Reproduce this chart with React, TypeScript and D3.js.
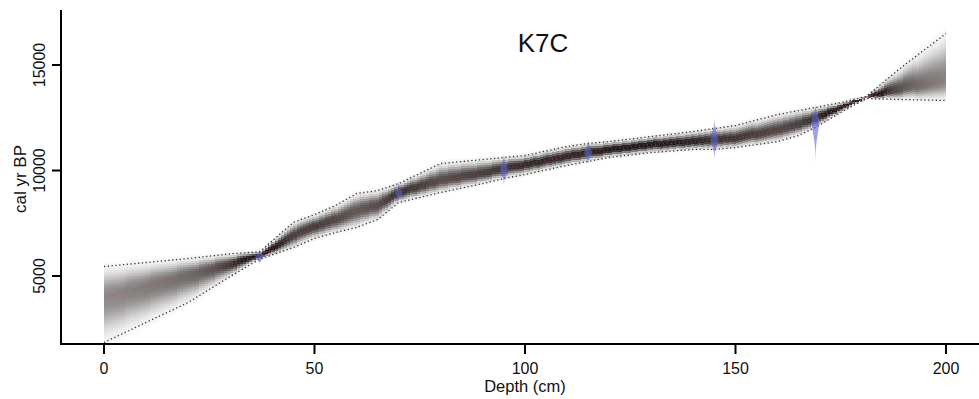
import React from "react";
import * as d3 from "d3";

// Age-depth model for core K7C: 95% envelope and median (cal yr BP) at model depths (cm)
const depths = [0, 10, 20, 30, 37, 45, 50, 55, 60, 65, 70, 75, 80, 90, 95, 100, 110, 115, 120, 130, 140, 145, 150, 160, 165, 169, 175, 181, 190, 200];
const upper95 = [5450, 5640, 5830, 6050, 6150, 7540, 7910, 8340, 8910, 9050, 9380, 9860, 10330, 10520, 10620, 10710, 11140, 11280, 11370, 11610, 11850, 11990, 12130, 12650, 12840, 12990, 13220, 13510, 14980, 16490];
const medianAge = [3980, 4510, 5040, 5570, 5950, 6920, 7350, 7680, 8100, 8340, 8960, 9240, 9530, 9860, 10090, 10280, 10660, 10850, 10990, 11230, 11370, 11450, 11520, 11900, 12180, 12460, 12990, 13460, 13890, 14270];
const lower95 = [1850, 2800, 3745, 4980, 5800, 6350, 6780, 7060, 7300, 7680, 8480, 8720, 8960, 9380, 9620, 9810, 10240, 10430, 10620, 10850, 11000, 11000, 11090, 11370, 11660, 12040, 12750, 13410, 13360, 13320];

// Calibrated radiocarbon dates
const dateDepths = [37, 70, 95, 115, 145, 169];
const dateAges = [5920, 8960, 10050, 10850, 11500, 12400];
const dateSdOlder = [130, 150, 250, 190, 320, 260];
const dateSdYounger = [130, 150, 250, 190, 320, 650];

const xTicks = [0, 50, 100, 150, 200];
const yTicks = [5000, 10000, 15000];

const W = 979;
const H = 399;
const plotLeft = 61;
const plotTop = 10;
const plotBottom = 344;
const font = "'Liberation Sans', Arial, Helvetica, sans-serif";

export default function App() {
  const x = d3.scaleLinear().domain([0, 200]).range([104, 946]);
  const y = d3.scaleLinear().domain([5000, 15000]).range([276, 65]);

  const up = d3.scaleLinear().domain(depths).range(upper95);
  const med = d3.scaleLinear().domain(depths).range(medianAge);
  const lo = d3.scaleLinear().domain(depths).range(lower95);

  // greyscale posterior density, one column of cells per depth step
  const cells: { x: number; y: number; w: number; h: number; o: number }[] = [];
  const step = 0.75;
  const cellH = 2;
  for (let d0 = 0; d0 < 200 - 1e-9; d0 += step) {
    const d1 = Math.min(200, d0 + step);
    const dc = (d0 + d1) / 2;
    const u = up(dc), m = med(dc), l = lo(dc);
    const sUp = Math.max(15, (u - m) / 1.96);
    const sDn = Math.max(15, (m - l) / 1.96);
    const sAvg = (u - l) / 3.92;
    const peak = Math.min(1, 1.2 * Math.pow(130 / Math.max(sAvg, 1), 0.45));
    const pyTop = y(m + 2.6 * sUp);
    const pyBot = y(m - 2.6 * sDn);
    const xa = x(d0), xb = x(d1);
    for (let py = pyTop; py < pyBot; py += cellH) {
      const age = y.invert(py + cellH / 2);
      const z = age >= m ? (age - m) / sUp : (m - age) / sDn;
      const o = peak * Math.exp(-0.5 * Math.pow(Math.abs(z), 2.4));
      if (o < 0.015) continue;
      cells.push({ x: xa, y: py, w: xb - xa, h: cellH, o });
    }
  }

  const lineGen = (vals: number[]) =>
    d3.line<number>().x((_, i) => x(depths[i])).y((v) => y(v))(vals) || "";

  const dateShapes = dateDepths.map((dep, i) => {
    const a = dateAges[i];
    const sO = dateSdOlder[i];
    const sY = dateSdYounger[i];
    const ages = d3.range(0, 81).map((k) => a - 3.2 * sY + (k / 80) * (3.2 * sY + 3.2 * sO));
    const hw = (age: number) => {
      const z = age >= a ? (age - a) / sO : (a - age) / sY;
      return 3.8 * Math.exp(-0.5 * z * z);
    };
    return (
      d3
        .area<number>()
        .y((v) => y(v))
        .x0((v) => x(dep) - hw(v))
        .x1((v) => x(dep) + hw(v))(ages) || ""
    );
  });

  return (
    <svg
      width={W}
      height={H}
      style={{ position: "absolute", left: 0, top: 0, background: "#fff" }}
      fontFamily={font}
    >
      <rect x={0} y={0} width={W} height={H} fill="#fff" />
      <g shapeRendering="crispEdges">
        {cells.map((c, i) => (
          <rect key={i} x={c.x} y={c.y} width={c.w} height={c.h} fill="#1e1616" fillOpacity={c.o} />
        ))}
      </g>
      <path d={lineGen(upper95)} fill="none" stroke="#333" strokeWidth={1.3} strokeDasharray="1.3,2.5" />
      <path d={lineGen(lower95)} fill="none" stroke="#333" strokeWidth={1.3} strokeDasharray="1.3,2.5" />
      <path d={lineGen(medianAge)} fill="none" stroke="#d04040" strokeOpacity={0.7} strokeWidth={1.2} strokeDasharray="1.2,2.8" />
      {dateShapes.map((p, i) => (
        <path key={i} d={p} fill="rgb(90,100,205)" fillOpacity={0.6} />
      ))}

      {/* axes */}
      <line x1={plotLeft} y1={plotTop} x2={plotLeft} y2={plotBottom + 1} stroke="#000" strokeWidth={2} />
      <line x1={plotLeft - 1} y1={plotBottom} x2={W} y2={plotBottom} stroke="#000" strokeWidth={2} />
      {xTicks.map((t) => (
        <g key={t}>
          <line x1={x(t)} x2={x(t)} y1={plotBottom} y2={plotBottom + 10} stroke="#000" strokeWidth={2} />
          <text x={x(t)} y={374} fontSize={16} textAnchor="middle" fill="#111">
            {t}
          </text>
        </g>
      ))}
      {yTicks.map((t) => (
        <g key={t}>
          <line x1={plotLeft - 9} x2={plotLeft} y1={y(t)} y2={y(t)} stroke="#000" strokeWidth={2} />
          <text
            transform={`translate(45,${y(t)}) rotate(-90)`}
            fontSize={16}
            textAnchor="middle"
            fill="#111"
          >
            {t}
          </text>
        </g>
      ))}
      <text x={x(100)} y={392} fontSize={16.5} textAnchor="middle" fill="#111">
        Depth (cm)
      </text>
      <text transform="translate(26,179) rotate(-90)" fontSize={17} textAnchor="middle" fill="#111">
        cal yr BP
      </text>
      <text x={543} y={52} fontSize={26} textAnchor="middle" fill="#111">
        K7C
      </text>
    </svg>
  );
}
